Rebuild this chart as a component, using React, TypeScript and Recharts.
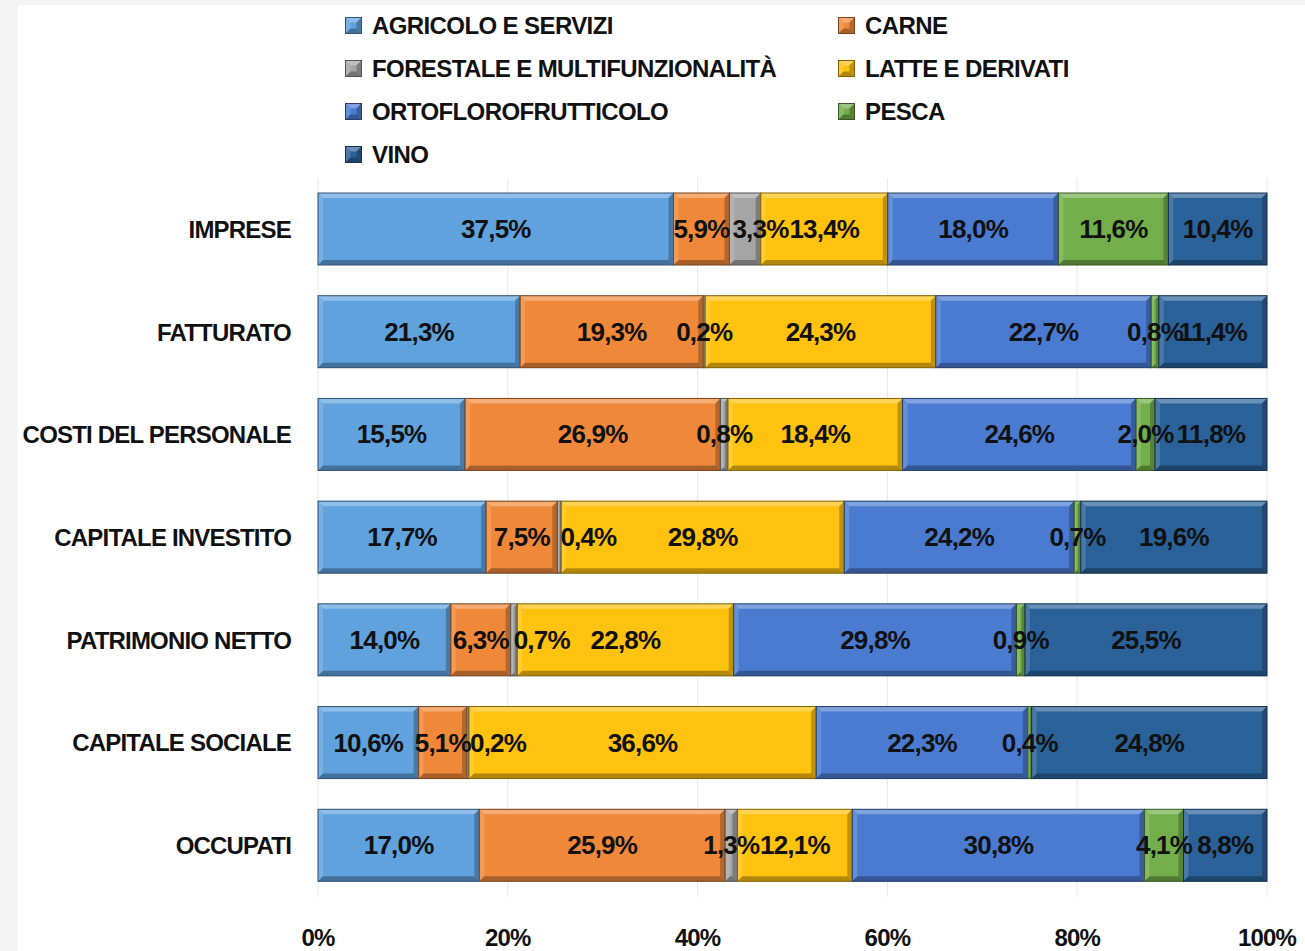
import React from 'react';
import { Bar, BarChart, CartesianGrid, LabelList, Legend, XAxis, YAxis } from 'recharts';

const categories = [
  'IMPRESE',
  'FATTURATO',
  'COSTI DEL PERSONALE',
  'CAPITALE INVESTITO',
  'PATRIMONIO NETTO',
  'CAPITALE SOCIALE',
  'OCCUPATI',
];

const seriesNames = [
  'AGRICOLO E SERVIZI',
  'CARNE',
  'FORESTALE E MULTIFUNZIONALITÀ',
  'LATTE E DERIVATI',
  'ORTOFLOROFRUTTICOLO',
  'PESCA',
  'VINO',
];

const seriesColors = ['#5fa2de', '#f0883a', '#a5a5a5', '#ffc20e', '#4a7bd0', '#72ae4a', '#2a6199'];

// one array per sector, in category order
const agricolo = [37.5, 21.3, 15.5, 17.7, 14.0, 10.6, 17.0];
const carne = [5.9, 19.3, 26.9, 7.5, 6.3, 5.1, 25.9];
const forestale = [3.3, 0.2, 0.8, 0.4, 0.7, 0.2, 1.3];
const latte = [13.4, 24.3, 18.4, 29.8, 22.8, 36.6, 12.1];
const orto = [18.0, 22.7, 24.6, 24.2, 29.8, 22.3, 30.8];
const pesca = [11.6, 0.8, 2.0, 0.7, 0.9, 0.4, 4.1];
const vino = [10.4, 11.4, 11.8, 19.6, 25.5, 24.8, 8.8];

const xTicks = [0, 0.2, 0.4, 0.6, 0.8, 1];

const seriesValues = [agricolo, carne, forestale, latte, orto, pesca, vino];
const keys = ['s0', 's1', 's2', 's3', 's4', 's5', 's6'];

const rows = categories.map((name, i) => {
  const row: Record<string, string | number> = { name };
  keys.forEach((k, j) => {
    row[k] = seriesValues[j][i];
  });
  return row;
});

const FONT = '"Liberation Sans", Arial, sans-serif';
const textStyle = { fontFamily: FONT, fontWeight: 700, fontSize: 24, fill: '#111', letterSpacing: -0.8 };

const fmt = (v: any) => `${Number(v).toFixed(1).replace('.', ',')}%`;

function shade(hex: string, amt: number) {
  const n = parseInt(hex.slice(1), 16);
  const f = (c: number) => Math.max(0, Math.min(255, Math.round(amt > 0 ? c + (255 - c) * amt : c * (1 + amt))));
  const r = f((n >> 16) & 255);
  const g = f((n >> 8) & 255);
  const b = f(n & 255);
  return `rgb(${r},${g},${b})`;
}

// Excel-like bevelled bar segment
function BevelBar(props: any) {
  const { x, y, width, height, fill } = props;
  if (!width || width <= 0) return null;
  const b = Math.min(5, width / 2.5);
  const x2 = x + width;
  const y2 = y + height;
  return (
    <g>
      <rect x={x} y={y} width={width} height={height} fill={fill} />
      <polygon points={`${x},${y} ${x2},${y} ${x2 - b},${y + b} ${x + b},${y + b}`} fill={shade(fill, 0.3)} />
      <polygon points={`${x},${y} ${x + b},${y + b} ${x + b},${y2 - b} ${x},${y2}`} fill={shade(fill, 0.15)} />
      <polygon points={`${x2},${y} ${x2},${y2} ${x2 - b},${y2 - b} ${x2 - b},${y + b}`} fill={shade(fill, -0.25)} />
      <polygon points={`${x},${y2} ${x + b},${y2 - b} ${x2 - b},${y2 - b} ${x2},${y2}`} fill={shade(fill, -0.3)} />
      <rect x={x} y={y} width={width} height={height} fill="none" stroke={shade(fill, -0.5)} strokeWidth={1} />
    </g>
  );
}

// label for a segment; forestale labels next to a short carne segment
// start at the segment instead of being centred, so they clear the carne label
function SegmentLabel(props: any, seriesIdx: number) {
  const { x, y, width, height, value, index } = props;
  const cy = y + height / 2;
  let tx = x + width / 2;
  let anchor: 'middle' | 'start' = 'middle';
  if (seriesIdx === 2 && typeof index === 'number' && carne[index] < 10) {
    tx = x + 3;
    anchor = 'start';
  }
  return (
    <text x={tx} y={cy} textAnchor={anchor} dominantBaseline="central" style={{ ...textStyle, fontSize: 26 }}>
      {fmt(value)}
    </text>
  );
}

function LegendBox() {
  return (
    <div
      style={{
        display: 'grid',
        gridTemplateColumns: '493px 300px',
        paddingLeft: 345,
        height: 174,
        boxSizing: 'border-box',
        paddingTop: 4,
      }}
    >
      {seriesNames.map((n, i) => (
        <div key={n} style={{ display: 'flex', alignItems: 'center', height: 43 }}>
          <svg width={17} height={17} style={{ marginRight: 10 }}>
            <BevelBar x={0.5} y={0.5} width={16} height={16} fill={seriesColors[i]} />
          </svg>
          <span style={{ fontFamily: FONT, fontWeight: 700, fontSize: 24, letterSpacing: -0.6, color: '#111' }}>{n}</span>
        </div>
      ))}
    </div>
  );
}

export default function App() {
  return (
    <div style={{ position: 'absolute', left: 0, top: 0, width: 1305, height: 951, background: '#f4f4f4' }}>
      <div style={{ position: 'absolute', left: 18, top: 5, width: 1287, height: 946, background: '#fff' }} />
      <div style={{ position: 'absolute', left: 0, top: 0 }}>
        <BarChart
          width={1305}
          height={951}
          data={rows}
          layout="vertical"
          stackOffset="expand"
          barSize={72}
          margin={{ top: 4, right: 38, bottom: 0, left: 0 }}
        >
          <CartesianGrid horizontal={false} vertical stroke="#e8e8e8" />
          <XAxis
            type="number"
            domain={[0, 1]}
            ticks={xTicks}
            tickFormatter={(v: number) => `${Math.round(v * 100)}%`}
            axisLine={false}
            tickLine={false}
            tickSize={0}
            tickMargin={32}
            height={54}
            tick={textStyle}
            interval={0}
          />
          <YAxis
            type="category"
            dataKey="name"
            width={318}
            axisLine={false}
            tickLine={false}
            tickSize={0}
            tickMargin={27}
            tick={textStyle}
            interval={0}
          />
          <Legend verticalAlign="top" align="left" wrapperStyle={{ top: 0, left: 0 }} content={() => <LegendBox />} />
          {keys.map((k, i) => (
            <Bar
              key={k}
              dataKey={k}
              name={seriesNames[i]}
              stackId="a"
              fill={seriesColors[i]}
              shape={BevelBar}
              isAnimationActive={false}
            >
              <LabelList dataKey={k} content={(p: any) => SegmentLabel(p, i)} />
            </Bar>
          ))}
        </BarChart>
      </div>
    </div>
  );
}
